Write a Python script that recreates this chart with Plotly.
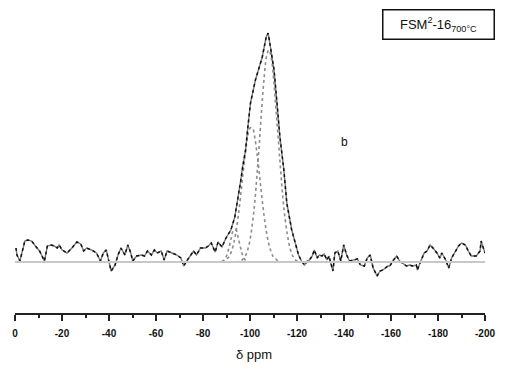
import plotly.graph_objects as go

# Experimental 29Si spectrum (ppm, intensity)
exp_ppm = [-0.42, -0.84, -2.09, -4.18, -5.43, -7.10, -8.35, -10.44, -12.53, -13.78, -15.45, -16.70,
           -17.95, -18.79, -20.04, -22.13, -24.22, -26.30, -27.98, -29.23, -30.48, -32.57, -34.66,
           -36.33, -37.58, -38.83, -40.92, -42.59, -43.84, -45.09, -46.76, -48.02, -49.27, -50.10,
           -51.77, -53.86, -55.11, -56.37, -58.04, -59.29, -60.54, -62.21, -63.47, -64.72, -66.81,
           -68.89, -70.56, -71.82, -73.07, -74.74, -75.99, -77.24, -78.91, -81.00, -82.25, -83.51,
           -85.18, -86.43, -88.10, -89.77, -91.86, -93.53, -94.78, -96.03, -96.87, -98.12, -98.96,
           -100.21, -102.30, -105.22, -106.89, -107.72, -108.56, -110.23, -111.48, -112.73, -114.41,
           -115.66, -117.75, -119.00, -120.67, -121.92, -123.17, -124.43, -125.26, -126.51, -127.35,
           -128.60, -129.44, -130.69, -131.52, -132.78, -133.61, -135.28, -136.12, -137.37, -138.62,
           -139.87, -141.13, -142.38, -144.05, -145.72, -146.97, -148.64, -149.90, -151.15, -152.40,
           -154.07, -155.32, -156.58, -158.66, -159.50, -160.75, -162.42, -163.67, -164.93, -166.60,
           -167.85, -169.10, -170.77, -171.19, -172.86, -174.11, -175.37, -176.62, -177.87, -179.54,
           -180.79, -181.63, -183.30, -184.55, -185.80, -187.47, -188.73, -189.98, -191.65, -192.90,
           -194.15, -196.24, -197.91, -198.33, -199.16, -200.0]
exp_int = [14, 7, 1, 21, 22, 21, 17, 11, 1, 16, 17, 16,
           14, 17, 12, 9, 14, 20, 18, 11, 14, 12, 9,
           1, 9, 12, -9, -3, 7, 14, 7, 17, 9, 1,
           6, 7, 6, 11, 7, 12, 9, 11, 2, 11, 9,
           7, 4, -4, 1, 7, 11, 7, 14, 14, 16, 19,
           10, 20, 15, 24, 32, 45, 62, 81, 95, 112, 132,
           159, 182, 205, 225, 229, 217, 192, 159, 125, 92,
           59, 32, 21, 7, 1, -3, 1, 2, 6, 12,
           4, 7, 6, 8, 2, 6, -9, 9, 11, 1,
           17, 7, 1, 2, 3, -3, -4, 4, 7, -6,
           -14, -9, -8, -4, -4, 1, 6, 1, -1, -4,
           -3, -4, -3, -8, 2, 9, 11, 17, 14, 9,
           4, 9, 2, -6, 4, 11, 16, 19, 17, 11,
           6, 6, 11, 21, 16, 9]

# Deconvoluted components
q4_ppm = [-94, -96, -97, -98, -99, -100, -101, -102, -103, -104, -105, -106, -107, -108,
          -109, -110, -111, -112, -113, -114, -115, -116, -117, -118, -119, -120, -122]
q4_int = [0, 1, 3, 6, 12, 22, 38, 59, 88, 120, 154, 184, 205, 212,
          205, 184, 154, 124, 93, 64, 42, 26, 14, 7, 3, 1, 0]

q3_ppm = [-88, -89, -90, -91, -92, -93, -94, -95, -96, -97, -98, -99, -100,
          -101, -102, -103, -104, -105, -106, -107, -108, -109, -110, -111, -112, -113]
q3_int = [0.5, 1, 3, 5, 10, 18, 30, 46, 66, 88, 108, 125, 134,
          134, 125, 108, 88, 66, 46, 30, 18, 10, 5, 3, 1, 0.5]

q2_ppm = [-88, -89, -90, -91, -92, -93, -94, -95, -96, -97, -98, -99]
q2_int = [0.5, 2, 6, 14, 24, 32, 32, 24, 14, 6, 2, 0.5]

major_ticks = [0, -20, -40, -60, -80, -100, -120, -140, -160, -180, -200]
tick_labels = ["0", "-20", "-40", "-60", "-80", "-100", "-120", "-140", "-160", "-180", "-200"]

FONT = "Arial, Liberation Sans, sans-serif"

fig = go.Figure()

fig.add_hline(y=0, line=dict(color="#c8c8c8", width=1.8))

for px, py in [(q2_ppm, q2_int), (q3_ppm, q3_int), (q4_ppm, q4_int)]:
    fig.add_trace(go.Scatter(x=px, y=py, mode="lines",
                             line=dict(color="#8c8c8c", width=1.6, dash="dot", shape="spline"),
                             showlegend=False, hoverinfo="skip"))

fig.add_trace(go.Scatter(x=exp_ppm, y=exp_int, mode="lines",
                         line=dict(color="#7a7a7a", width=1.4), showlegend=False, hoverinfo="skip"))
fig.add_trace(go.Scatter(x=exp_ppm, y=exp_int, mode="lines",
                         line=dict(color="#111111", width=1.5, dash="dot"), showlegend=False, hoverinfo="skip"))

fig.update_layout(
    width=507, height=379,
    margin=dict(l=13, r=15, t=20, b=66),
    paper_bgcolor="white", plot_bgcolor="white",
    font=dict(family=FONT, color="#111"),
    xaxis=dict(range=[0, -200], showgrid=False, zeroline=False,
               showline=True, linecolor="#222", linewidth=2,
               ticks="outside", tickvals=major_ticks,
               ticktext=["<b>" + t + "</b>" for t in tick_labels],
               ticklen=6, tickwidth=1.5, tickcolor="#222",
               tickfont=dict(family=FONT, size=10, color="#111"),
               ticklabelstandoff=4,
               minor=dict(dtick=10, tick0=0, ticks="outside", ticklen=3, tickwidth=1.5, tickcolor="#222")),
    yaxis=dict(range=[-51, 242], visible=False),
    annotations=[
        dict(text="δ ppm", xref="paper", yref="paper", x=0.509, y=-0.143,
             showarrow=False, font=dict(family=FONT, size=13, color="#111"), xanchor="center", yanchor="middle"),
        dict(text="b", xref="paper", yref="paper", x=0.7, y=0.584,
             showarrow=False, font=dict(family=FONT, size=12, color="#111"), xanchor="center", yanchor="middle"),
        dict(text="FSM<sup>2</sup>-16<sub>700°C</sub>", xref="paper", yref="paper", x=0.9, y=0.986,
             showarrow=False, font=dict(family=FONT, size=13, color="#111"), xanchor="center", yanchor="middle",
             bordercolor="#111", borderwidth=1.5, borderpad=2, width=106, height=24, bgcolor="white"),
    ],
)

fig.write_html("out.html")
